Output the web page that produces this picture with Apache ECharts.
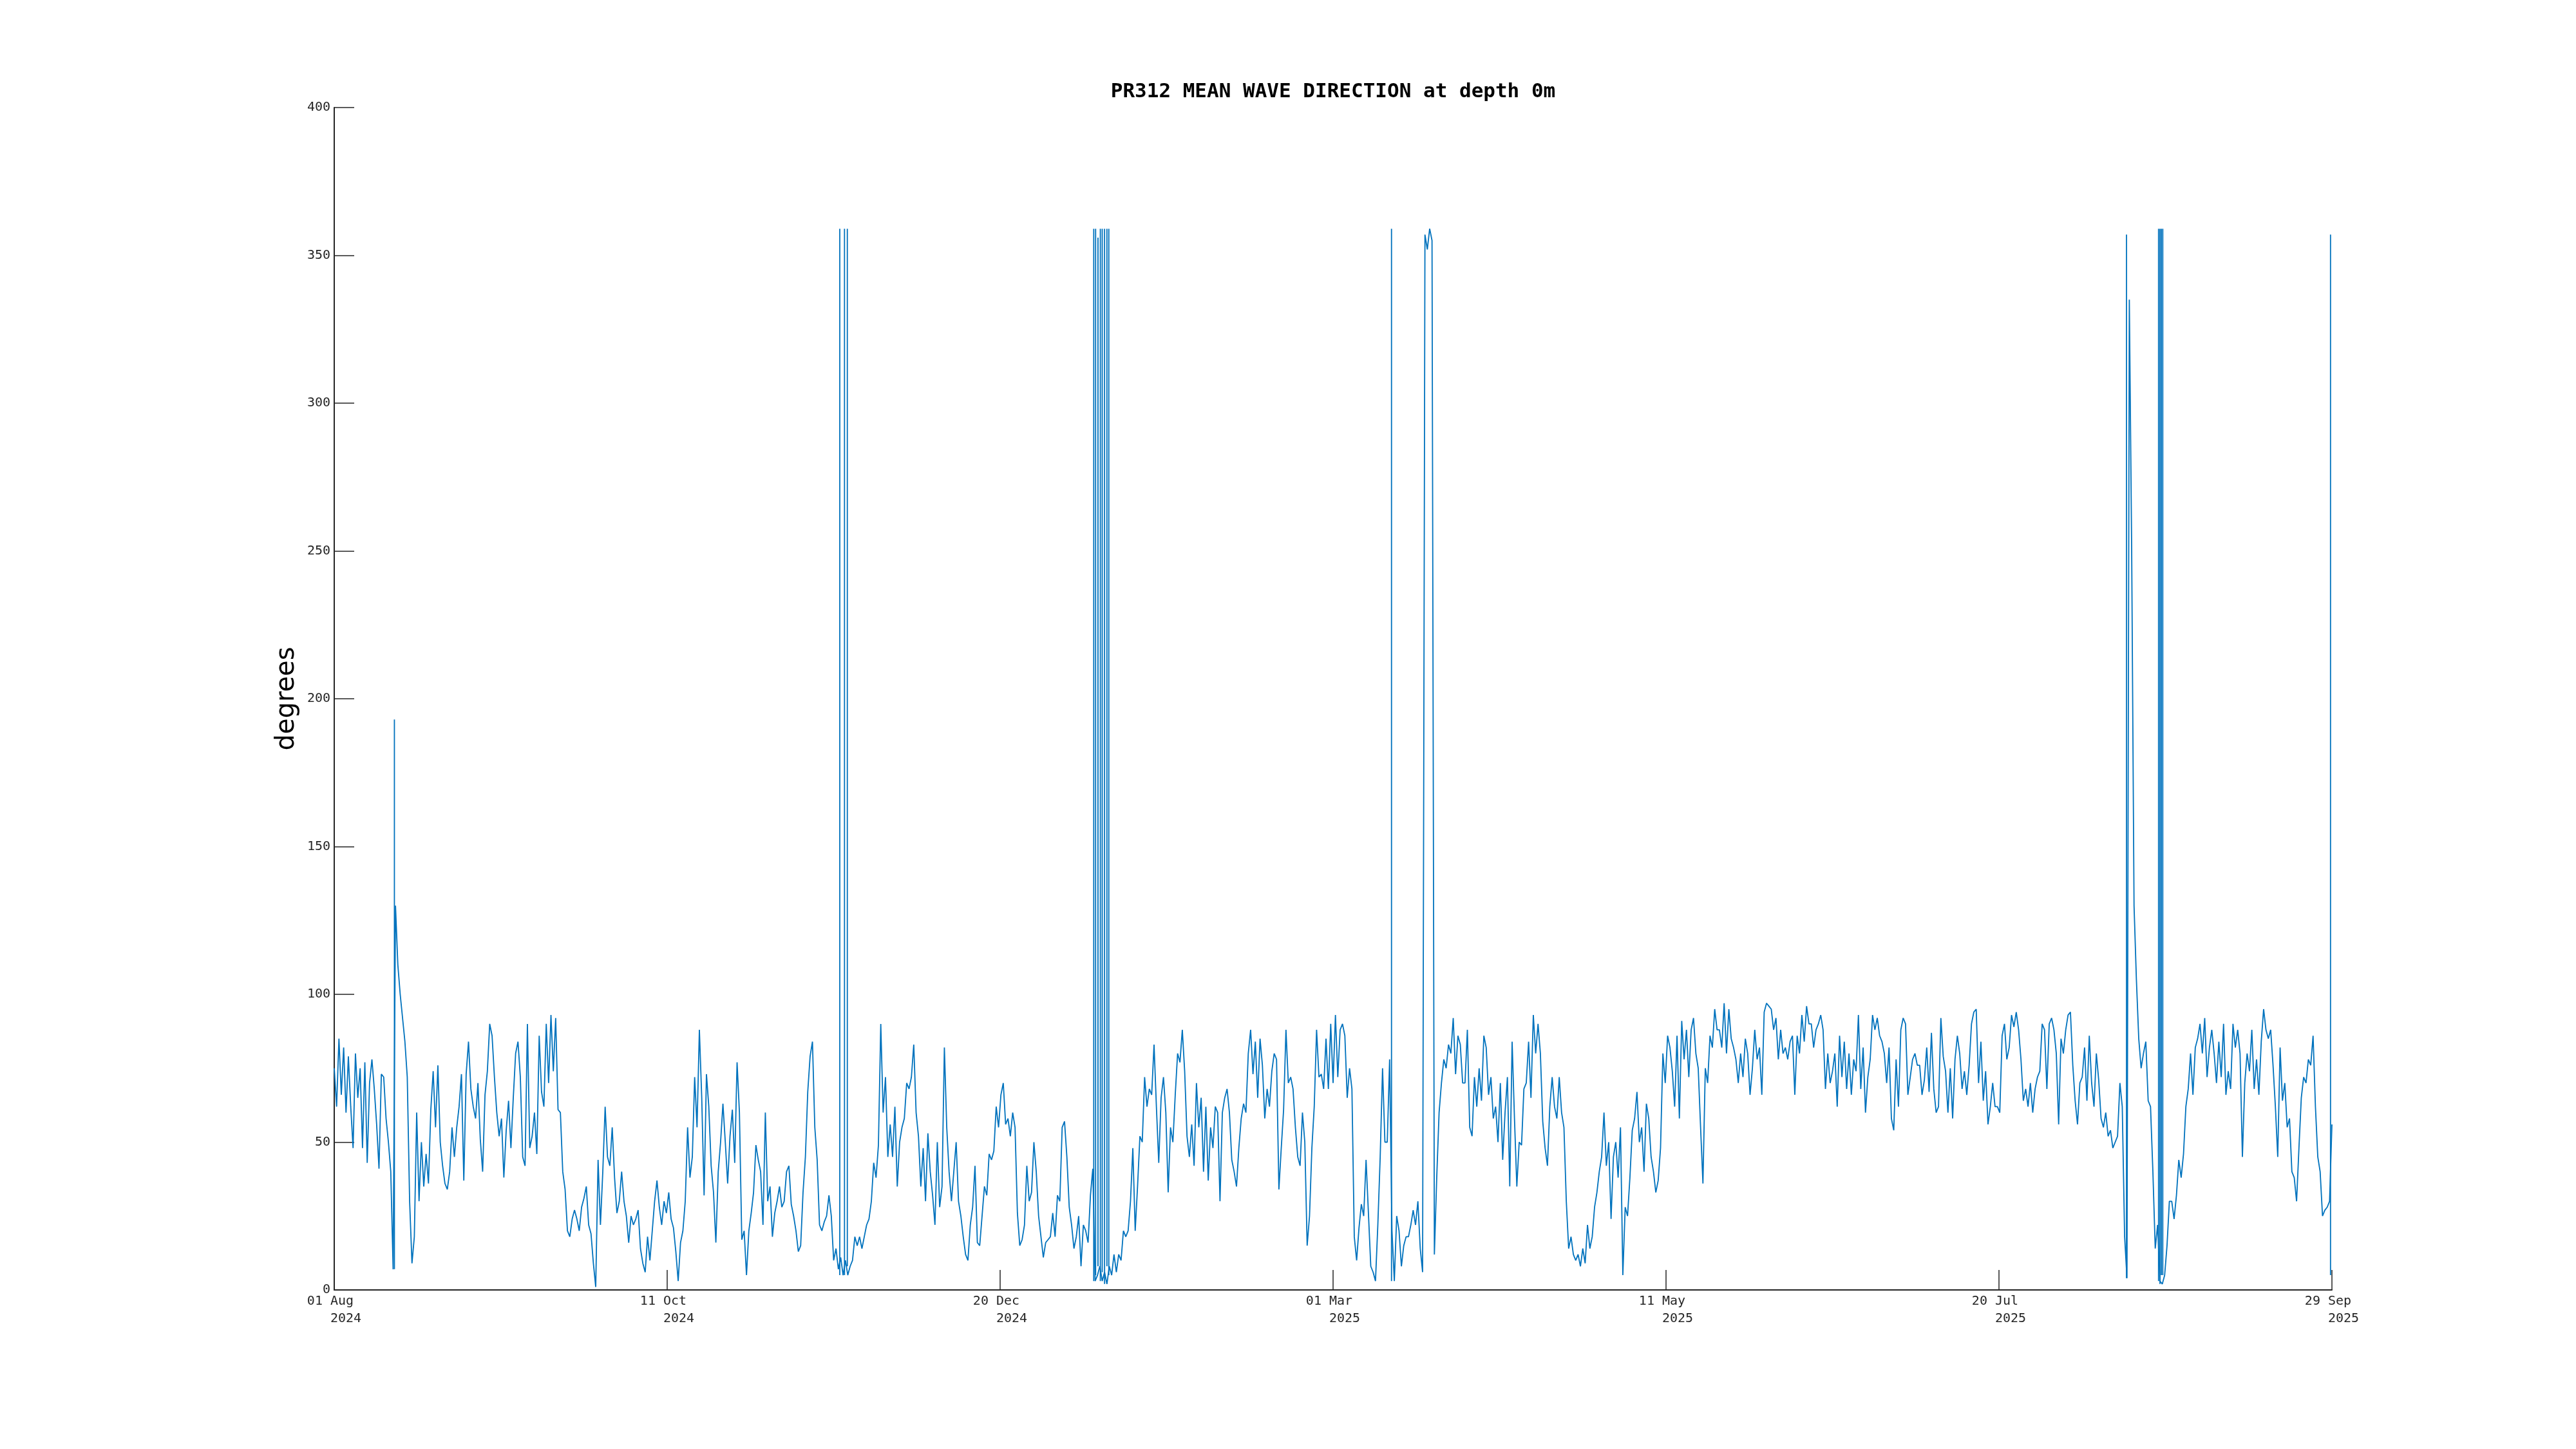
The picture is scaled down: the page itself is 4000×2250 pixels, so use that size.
<!DOCTYPE html>
<html><head><meta charset="utf-8">
<script src="https://cdn.jsdelivr.net/npm/echarts@6/dist/echarts.min.js"></script>
<style>html,body{margin:0;padding:0;background:#fff}#c{width:4000px;height:2250px}</style>
</head><body><div id="c"></div>
<script>
// x axis: days since 01 Aug 2024; ticks at 6 equal intervals
const xTickLabels = ['01 Aug', '11 Oct', '20 Dec', '01 Mar', '11 May', '20 Jul', '29 Sep'];
const xTickYears  = ['2024', '2024', '2024', '2025', '2025', '2025', '2025'];
const spanDays = 424;
const stepDays = 0.5; // sampling of the series below (half-day)

// Mean wave direction (degrees), half-day samples
const mwdAugSep = [75,62,85,66,82,60,79,62,48,80, 65,75,48,77,43,70,78,68,56,41, 73,72,58,50,40,7,130,110,100,92,
  84,72,30,9,18,60,30,50,35,46, 36,61,74,55,76,50,42,36,34,40, 55,45,55,62,73,37,73,84,68,62,
  58,70,51,40,66,74,90,86,72,60, 52,58,38,54,64,48,65,80,84,72, 45,42,90,48,52,60,46,86,67,62,
  90,70,93,74,92,61,60,40,34,20, 18,24,27,24,20,28,31,35,22,19, 9,1,44,22,40,62,45,42,55,38,26,30];
const mwdOctNov = [40,30,25,16,25,22,24,27,14,9, 6,18,10,20,30,37,28,22,30,26, 33,24,21,13,3,16,20,30,55,38,
  45,72,55,88,65,32,73,62,42,33, 16,40,50,63,50,36,52,61,43,77, 60,17,20,5,20,26,33,49,44,40,
  22,60,30,35,18,26,30,35,28,30, 40,42,29,25,20,13,15,33,45,67, 79,84,55,44,22,20,23,25,32,25,
  10,14,7,11,5,10,5,8,10,18, 15,18,14,18,22,24,30,43,38,49, 90,60,72,45,56,45,62,35,50,55,58];
const mwdDecJan = [70,68,72,83,60,52,35,48,30,53, 40,32,22,50,28,35,82,55,40,30, 40,50,30,25,18,12,10,22,28,42,
  16,15,25,35,32,46,44,47,62,55, 66,70,56,58,52,60,55,26,15,17, 22,42,30,33,50,40,25,18,11,16,
  17,18,26,18,32,30,55,57,45,28, 22,14,18,25,8,22,20,16,32,41, 3,5,8,3,6,2,8,5,12,6,
  12,10,20,18,20,30,48,20,35,52, 50,72,62,68,66,83,62,43,65,72, 60,33,55,50,66,80,77,88,74,52];
const mwdFebMar = [45,56,42,70,55,65,40,62,37,55, 48,62,60,30,60,65,68,60,44,40, 35,48,58,63,60,80,88,73,84,65,
  85,76,58,68,62,74,80,78,34,48, 61,88,70,72,68,55,45,42,60,50, 15,25,48,62,88,72,73,68,85,68,
  90,70,93,72,88,90,86,65,75,68, 18,10,21,29,25,44,26,8,6,3, 22,45,75,50,50,78,20,3,25,20,
  8,15,18,18,22,27,22,30,14,6, 357,352,359,355,12,38,60,70,78,75, 83,80,92,73,86,83,70,70,88,55];
const mwdAprMay = [52,72,62,75,64,86,82,66,72,58, 62,50,70,44,60,72,35,84,58,35, 50,49,68,70,84,65,93,80,90,80,
  57,48,42,62,72,62,58,72,60,55, 30,14,18,12,10,12,8,14,9,22, 14,18,28,33,40,45,60,42,50,24,
  45,50,38,55,5,28,25,38,54,58, 67,50,55,40,63,58,45,40,33,37, 48,80,70,86,82,74,62,86,58,91,
  78,88,72,88,92,80,75,55,36,75, 70,86,82,95,88,88,82,97,80,95, 85,82,78,70,80,72,85,80,66,75];
const mwdJunJul = [88,78,82,66,94,97,96,95,88,92, 78,88,80,82,78,84,86,66,86,80, 93,84,96,90,90,82,88,90,93,88,
  68,80,70,74,80,62,86,72,84,68, 80,66,78,74,93,68,82,60,72,78, 93,88,92,86,84,80,70,82,58,54,
  78,62,88,92,90,66,72,78,80,76, 76,66,71,82,67,87,68,60,62,92, 79,74,60,75,58,78,86,80,68,74,
  66,76,90,94,95,70,84,64,74,56, 62,70,62,62,60,86,90,78,82,93, 89,94,88,78,64,68,62,70];
const mwdAugSep25 = [60,68,72,74,90,88,68,90,92,88, 80,56,85,80,88,93,94,76,64,56, 70,72,82,64,86,70,62,80,71,58,
  55,60,52,54,48,50,52,70,62,18, 4,335,250,130,105,85,75,80,84,64, 62,40,14,22,3,2,5,15,30,30,
  24,32,44,38,46,62,68,80,66,82, 85,90,80,92,72,82,88,80,70,84, 72,90,66,74,68,90,82,88,80,45,
  70,80,74,88,68,78,66,84,95,88, 85,88,76,62,45,82,64,70,55,58, 40,38,30,48,65,72,70,78,76,86,
  62,45,40,25,27,28,30,56];

// near-instant jumps (direction wrapping through north, and the August 2024 peak)
const spikeDays = [12.77, 107.3, 108.3, 108.9, 161.2, 161.6, 162.1, 162.6, 163.0, 163.5, 164.0, 164.4, 224.4, 380.4, 387.2, 387.5, 387.8, 388.1, 423.7];
const spikeLow  = [7, 5, 5, 8, 3, 5, 8, 3, 6, 2, 8, 5, 3, 4, 3, 2, 5, 5, 5];
const spikeHigh = [193, 359, 359, 359, 359, 359, 356, 359, 359, 359, 359, 359, 359, 357, 359, 359, 359, 359, 357];

const mwd = [].concat(mwdAugSep, mwdOctNov, mwdDecJan, mwdFebMar, mwdAprMay, mwdJunJul, mwdAugSep25);
const mainData = mwd.map((v, i) => [i * stepDays, v]);
const spikeData = [];
spikeDays.forEach((d, k) => { spikeData.push([d, spikeLow[k]], [d, spikeHigh[k]], [d, '-']); });
const xTickDays = xTickLabels.map((_, k) => k * spanDays / 6);

const chart = echarts.init(document.getElementById('c'), null, {renderer: 'canvas'});
const axisColor = '#262626';
const lineColor = '#0072BD';
chart.setOption({
  animation: false,
  backgroundColor: '#ffffff',
  graphic: [{
    type: 'text', x: 2070, y: 143,
    style: { text: 'PR312 MEAN WAVE DIRECTION at depth 0m', textAlign: 'center', textVerticalAlign: 'middle',
      font: 'bold 31px "DejaVu Sans Mono"', fill: '#000' }
  }],
  grid: { left: 519, right: 379, top: 167, bottom: 247, containLabel: false },
  xAxis: {
    type: 'value', min: 0, max: spanDays,
    axisLine: { show: true, lineStyle: { color: axisColor, width: 2 } },
    axisTick: { show: true, inside: true, length: 31, customValues: xTickDays, lineStyle: { color: axisColor, width: 1.5 } },
    splitLine: { show: false },
    axisLabel: {
      customValues: xTickDays, showMinLabel: true, showMaxLabel: true,
      formatter: (v) => { const k = Math.round(v / (spanDays / 6)); return xTickLabels[k] + ' \n   ' + xTickYears[k]; },
      fontFamily: 'DejaVu Sans Mono', fontSize: 20, lineHeight: 27, color: axisColor, margin: 4
    }
  },
  yAxis: {
    type: 'value', min: 0, max: 400, interval: 50,
    axisLine: { show: true, lineStyle: { color: axisColor, width: 2 } },
    axisTick: { show: true, inside: true, length: 31, lineStyle: { color: axisColor, width: 1.5 } },
    splitLine: { show: false },
    axisLabel: { fontFamily: 'DejaVu Sans Mono', fontSize: 20, color: axisColor, margin: 6 },
    name: 'degrees', nameLocation: 'middle', nameGap: 44,
    nameTextStyle: { fontFamily: 'DejaVu Sans', fontSize: 40, color: '#000' }
  },
  series: [
    { type: 'line', data: mainData, symbol: 'none', showSymbol: false, lineStyle: { color: lineColor, width: 1.8 }, z: 2 },
    { type: 'line', data: spikeData, symbol: 'none', showSymbol: false, connectNulls: false, lineStyle: { color: lineColor, width: 1.8 }, z: 2 }
  ]
});
</script>
</body></html>
